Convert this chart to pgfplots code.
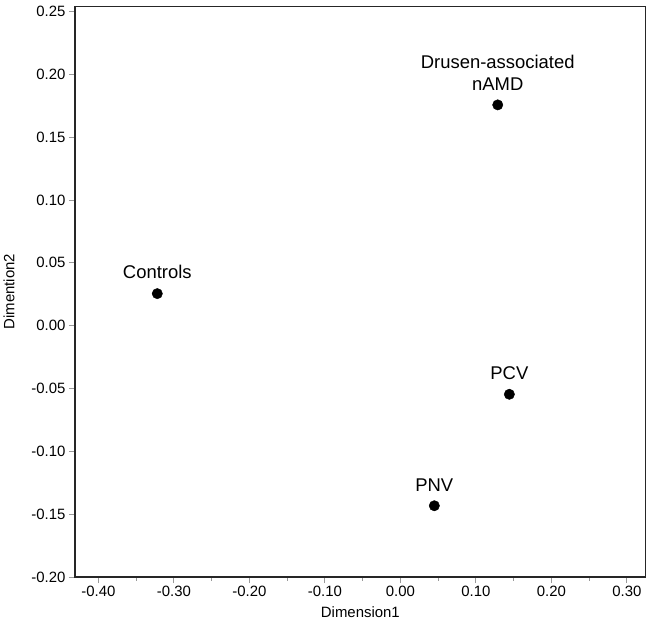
\documentclass[border=0pt]{standalone}
\usepackage{pgfplots}
\pgfplotsset{compat=1.18}
\usepackage{fontspec}
\setmainfont{Liberation Sans}
\begin{document}
\begin{tikzpicture}
\begin{axis}[
  scale only axis,
  width=570.7bp, height=570.5bp,
  xmin=-0.431, xmax=0.325,
  ymin=-0.20, ymax=0.254,
  xtick={-0.4,-0.3,-0.2,-0.1,0,0.1,0.2,0.3},
  ytick={-0.2,-0.15,-0.1,-0.05,0,0.05,0.1,0.15,0.2,0.25},
  minor x tick num=1,
  xtick pos=bottom, ytick pos=left,
  tick align=outside,
  major tick length=6bp, minor tick length=3.5bp,
  tick style={draw=gray!80, line width=0.8bp},
  axis line style={draw=black!85, line width=1.1bp},
  /pgf/number format/assume math mode=true,
  /pgf/number format/.cd, fixed, fixed zerofill, precision=2, /pgfplots/.cd,
  ticklabel style={font=\fontsize{15}{18}\selectfont},
  scaled ticks=false,
  xlabel={Dimension1}, ylabel={Dimention2},
  every axis x label/.style={at={(axis description cs:0.5,0)}, anchor=base, yshift=-40bp, font=\fontsize{15}{18}\selectfont},
  every axis y label/.style={at={(axis description cs:0,0.5)}, xshift=-66bp, rotate=90, anchor=center, font=\fontsize{15}{18}\selectfont},
  clip=false,
  nodes near coords style={anchor=south, inner sep=0pt, yshift=14.5bp, font=\fontsize{18.5}{22}\selectfont, text=black},
]
\coordinate (bl) at (rel axis cs:0,0);
\coordinate (tr) at (rel axis cs:1,1);
\addplot[only marks, mark=*, mark size=5.2bp, black, nodes near coords, point meta=explicit symbolic]
  coordinates {(-0.322,0.0255) [Controls] (0.1444,-0.0546) [PCV] (0.045,-0.1433) [PNV]};
\addplot[only marks, mark=*, mark size=5.2bp, black, nodes near coords={Drusen-associated\\nAMD}, nodes near coords style={align=center}]
  coordinates {(0.129,0.1757)};
\end{axis}
\pgfresetboundingbox
\path ([shift={(-75bp,-47bp)}]bl) rectangle ([shift={(4.3bp,6.5bp)}]tr);
\end{tikzpicture}
\end{document}
